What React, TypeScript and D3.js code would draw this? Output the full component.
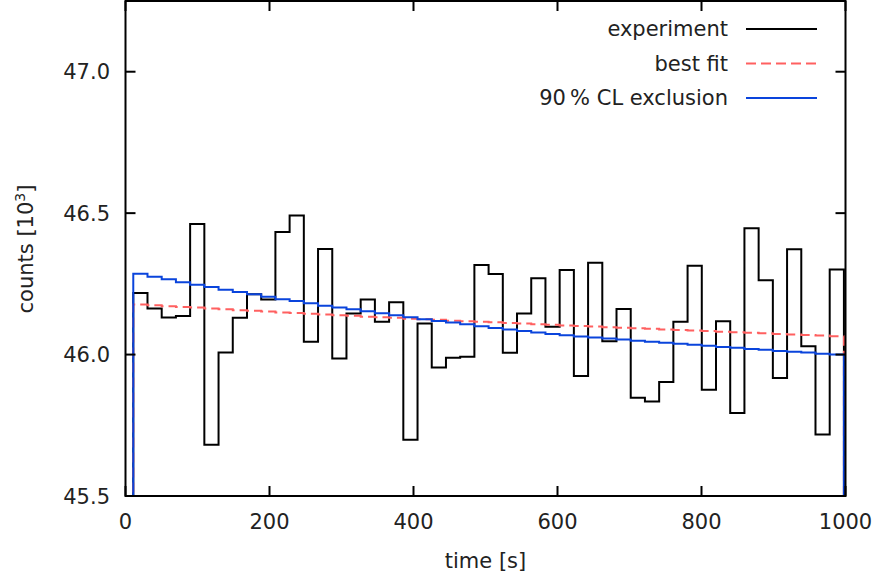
import React from 'react';
import * as d3 from 'd3';

const xTicks = [0, 200, 400, 600, 800, 1000];
const yTicks = [45.5, 46.0, 46.5, 47.0];

// histogram values (counts in 10^3), 50 time bins
const experiment = [
  46.218, 46.163, 46.131, 46.136, 46.462, 45.681, 46.007, 46.130, 46.213, 46.195,
  46.433, 46.492, 46.045, 46.373, 45.986, 46.145, 46.195, 46.116, 46.185, 45.699,
  46.110, 45.954, 45.989, 45.992, 46.317, 46.285, 46.006, 46.145, 46.270, 46.098,
  46.299, 45.924, 46.325, 46.047, 46.161, 45.847, 45.834, 45.903, 46.116, 46.314,
  45.876, 46.118, 45.793, 46.447, 46.263, 45.917, 46.372, 46.029, 45.717, 46.301,
];

const bestFit = [
  46.177, 46.174, 46.171, 46.168, 46.166, 46.163, 46.160, 46.157, 46.155, 46.152,
  46.149, 46.147, 46.144, 46.142, 46.139, 46.137, 46.134, 46.132, 46.130, 46.127,
  46.125, 46.123, 46.120, 46.118, 46.116, 46.114, 46.112, 46.110, 46.107, 46.105,
  46.103, 46.101, 46.099, 46.097, 46.095, 46.093, 46.091, 46.089, 46.087, 46.085,
  46.083, 46.081, 46.079, 46.077, 46.075, 46.073, 46.071, 46.069, 46.067, 46.065,
];

const exclusion = [
  46.286, 46.275, 46.266, 46.256, 46.247, 46.239, 46.229, 46.221, 46.213, 46.204,
  46.196, 46.189, 46.181, 46.173, 46.166, 46.160, 46.153, 46.146, 46.139, 46.132,
  46.125, 46.119, 46.113, 46.107, 46.100, 46.094, 46.089, 46.083, 46.078, 46.073,
  46.068, 46.064, 46.060, 46.057, 46.053, 46.049, 46.045, 46.042, 46.038, 46.035,
  46.031, 46.027, 46.024, 46.020, 46.017, 46.013, 46.010, 46.007, 46.003, 46.000,
];

const binStart = 10.8;
const binWidth = 19.74;

const legendItems = [
  { label: 'experiment', color: '#000000', dash: '' },
  { label: 'best fit', color: '#ff6060', dash: '10,5' },
  { label: '90\u2009% CL exclusion', color: '#0a44dc', dash: '' },
];

const W = 875;
const H = 577;
const left = 125.5;
const right = 845.5;
const top = 1;
const bottom = 496;

export default function App() {
  const x = d3.scaleLinear().domain([0, 1000]).range([left, right]);
  const y = d3.scaleLinear().domain([45.5, 47.25]).range([bottom, top]);
  const font = '"DejaVu Sans", sans-serif';

  const stepPath = (vals: number[]) => {
    const pts: [number, number][] = [];
    pts.push([binStart, 45.3]);
    vals.forEach((v, i) => pts.push([binStart + i * binWidth, v]));
    const end = binStart + vals.length * binWidth;
    pts.push([end, vals[vals.length - 1]]);
    pts.push([end, 45.3]);
    const line = d3
      .line<[number, number]>()
      .x((d) => x(d[0]))
      .y((d) => y(d[1]))
      .curve(d3.curveStepAfter);
    return line(pts) || '';
  };

  const series = [
    { vals: experiment, color: legendItems[0].color, dash: legendItems[0].dash },
    { vals: bestFit, color: legendItems[1].color, dash: legendItems[1].dash },
    { vals: exclusion, color: legendItems[2].color, dash: legendItems[2].dash },
  ];

  return (
    <svg
      width={W}
      height={H}
      style={{ position: 'absolute', left: 0, top: 0, background: '#fff' }}
      fontFamily={font}
    >
      <defs>
        <clipPath id="plotclip">
          <rect x={left} y={top} width={right - left} height={bottom - top} />
        </clipPath>
      </defs>
      <g clipPath="url(#plotclip)">
        {series.map((s, i) => (
          <path
            key={i}
            d={stepPath(s.vals)}
            fill="none"
            stroke={s.color}
            strokeWidth={2}
            strokeDasharray={s.dash || undefined}
            strokeLinejoin="miter"
          />
        ))}
      </g>
      {/* ticks */}
      {xTicks.map((t) => (
        <g key={'x' + t}>
          <line x1={x(t)} x2={x(t)} y1={bottom} y2={bottom - 10} stroke="#000" strokeWidth={2} />
          <line x1={x(t)} x2={x(t)} y1={top} y2={top + 10} stroke="#000" strokeWidth={2} />
          <text x={x(t)} y={529} textAnchor="middle" fontSize={21} fill="#222">
            {t}
          </text>
        </g>
      ))}
      {yTicks.map((t) => (
        <g key={'y' + t}>
          <line x1={left} x2={left + 10} y1={y(t)} y2={y(t)} stroke="#000" strokeWidth={2} />
          <line x1={right} x2={right - 10} y1={y(t)} y2={y(t)} stroke="#000" strokeWidth={2} />
          <text x={110} y={y(t) + 7.5} textAnchor="end" fontSize={21} fill="#222">
            {t.toFixed(1)}
          </text>
        </g>
      ))}
      <rect
        x={left}
        y={top}
        width={right - left}
        height={bottom - top}
        fill="none"
        stroke="#000"
        strokeWidth={2}
      />
      {/* axis titles */}
      <text x={(left + right) / 2} y={568} textAnchor="middle" fontSize={21} fill="#222">
        time [s]
      </text>
      <text
        transform={`translate(33, 249) rotate(-90)`}
        textAnchor="middle"
        fontSize={21}
        fill="#222"
      >
        counts [10<tspan dy={-8} fontSize={14}>3</tspan>
        <tspan dy={8}>]</tspan>
      </text>
      {/* legend */}
      {legendItems.map((it, i) => {
        const ly = 29 + i * 34.5;
        return (
          <g key={it.label}>
            <text x={728} y={ly + 7} textAnchor="end" fontSize={21} fill="#222">
              {it.label}
            </text>
            <line
              x1={746}
              x2={817}
              y1={ly}
              y2={ly}
              stroke={it.color}
              strokeWidth={2}
              strokeDasharray={it.dash || undefined}
            />
          </g>
        );
      })}
    </svg>
  );
}
